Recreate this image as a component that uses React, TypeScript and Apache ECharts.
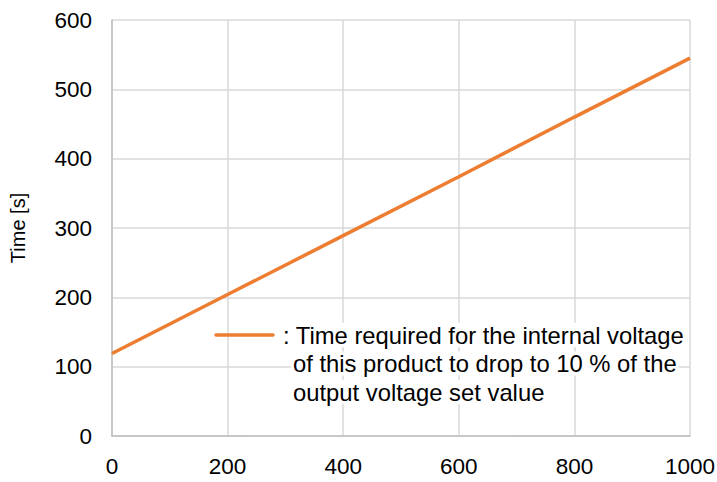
import React, { useEffect, useRef } from "react";
import * as echarts from "echarts";

const xValues = [0, 200, 400, 600, 800, 1000];
const timeValues = [119, 204, 289, 374, 460, 545];
const legendLines = [
  ": Time required for the internal voltage",
  "of this product to drop to 10 % of the",
  "output voltage set value",
];
const yAxisName = "Time [s]";

export default function App() {
  const ref = useRef<HTMLDivElement>(null);
  useEffect(() => {
    if (!ref.current) return;
    const chart = echarts.init(ref.current, undefined, { renderer: "svg" });
    const font = "'Liberation Sans', Arial, sans-serif";
    chart.setOption({
      animation: false,
      backgroundColor: "#ffffff",
      grid: { left: 112, right: 27, top: 20, bottom: 46, outerBoundsMode: "none", containLabel: false },
      xAxis: {
        type: "value",
        min: 0,
        max: 1000,
        interval: 200,
        axisLine: { show: true, lineStyle: { color: "#bfbfbf", width: 1.5 } },
        axisTick: { show: false },
        splitLine: { show: true, lineStyle: { color: "#d9d9d9", width: 1.5 } },
        axisLabel: { color: "#000", fontSize: 22.5, fontFamily: font, margin: 19, formatter: (v: number) => String(v) },
      },
      yAxis: {
        type: "value",
        min: 0,
        max: 600,
        interval: 100,
        name: yAxisName,
        nameLocation: "middle",
        nameGap: 84,
        nameTextStyle: { color: "#000", fontSize: 20, fontFamily: font },
        axisLine: { show: true, lineStyle: { color: "#bfbfbf", width: 1.5 } },
        axisTick: { show: false },
        splitLine: { show: true, lineStyle: { color: "#d9d9d9", width: 1.5 } },
        axisLabel: { color: "#000", fontSize: 22.5, fontFamily: font, margin: 20, formatter: (v: number) => String(v) },
      },
      series: [
        {
          type: "line",
          data: xValues.map((x, i) => [x, timeValues[i]]),
          showSymbol: false,
          lineStyle: { color: "#ed7d31", width: 3.5 },
          itemStyle: { color: "#ed7d31" },
          z: 3,
        },
      ],
      graphic: [
        {
          type: "line",
          shape: { x1: 216, y1: 335, x2: 273, y2: 335 },
          style: { stroke: "#ed7d31", lineWidth: 3.5, lineCap: "round" },
          z: 10,
        },
        ...legendLines.map((t, i) => ({
          type: "text",
          x: i === 0 ? 281 : 291,
          y: 335 + i * 28.5,
          z: 10,
          style: {
            text: t,
            fill: "#000",
            fontSize: 23.8,
            fontFamily: font,
            verticalAlign: "middle",
            backgroundColor: "#ffffff",
            padding: [0, 2],
          },
        })),
      ],
    });
    return () => chart.dispose();
  }, []);
  return <div ref={ref} style={{ width: 717, height: 482, position: "absolute", left: 0, top: 0 }} />;
}
